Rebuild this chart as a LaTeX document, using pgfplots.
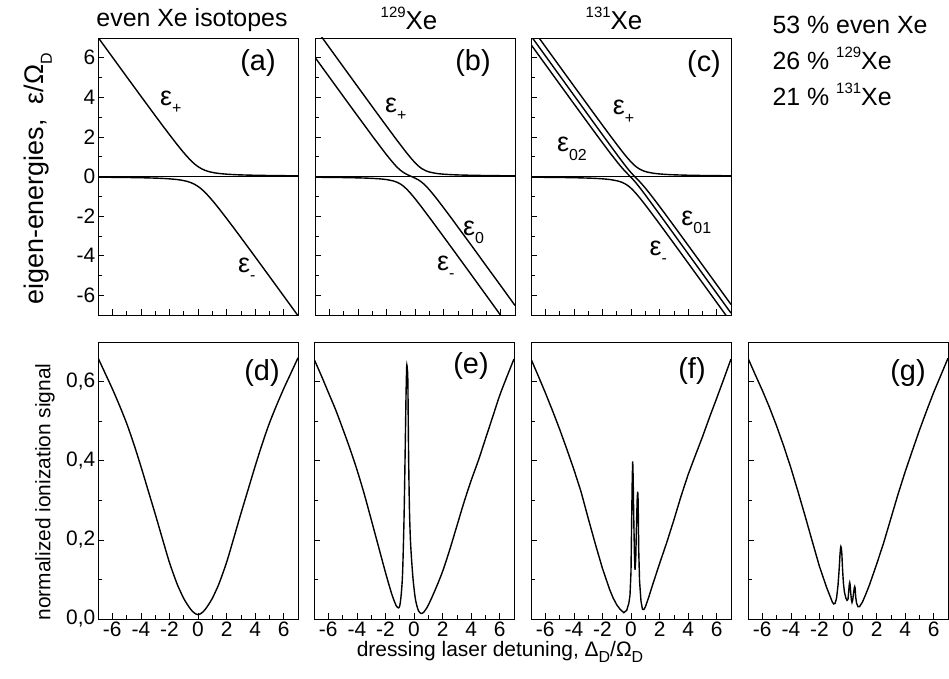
\documentclass[border=0pt]{standalone}
\usepackage{fontspec}
\setmainfont{Liberation Sans}
\usepackage{pgfplots}
\pgfplotsset{compat=1.18}
\newcommand{\fs}[1]{\fontsize{#1}{#1}\selectfont}
\newcommand{\sbs}[1]{\raisebox{-0.3em}{\fs{16}#1}}
\newcommand{\sps}[1]{\raisebox{0.5em}{\fs{15}#1}}
\tikzset{
  plab/.style={font=\fs{29}},
  elab/.style={font=\fs{27}, anchor=base west, inner sep=0pt},
}
\pgfplotsset{
  panel/.style={
    scale only axis, width=200bp, height=277bp,
    xmin=-7, xmax=7,
    xtick={-6,-4,-2,0,2,4,6},
    minor xtick={-5,-3,-1,1,3,5},
    xtick pos=left, ytick pos=left,
    tick align=inside,
    major tick length=6bp, minor tick length=3.5bp,
    every tick/.append style={black, line width=0.7bp},
    axis line style={line width=0.8bp},
    tick label style={font=\fs{21}},
    yticklabel style={anchor=east, inner sep=2.5bp},
    xticklabel style={anchor=north, inner sep=2.5bp},
    clip=true,
  },
  top/.style={ymin=-7, ymax=7, ytick={-6,-4,-2,0,2,4,6}, minor ytick={-5,-3,-1,1,3,5},
    xticklabels={}, yticklabels={}},
  bot/.style={ymin=0, ymax=0.7, ytick={0,0.2,0.4,0.6}, minor ytick={0.1,0.3,0.5},
    yticklabels={}, xticklabels={-6,-4,-2,0,2,4,6}},
  cv/.style={black, line width=1.4bp, smooth, tension=0.5, mark=none},
  cvs/.style={black, line width=1.4bp, mark=none},
  zl/.style={black, line width=0.6bp, mark=none},
}
\begin{document}
\begin{tikzpicture}
\useasboundingbox (0,0) rectangle (949bp,679bp);

% ---------- (a)
\begin{axis}[panel, top, at={(98bp,364bp)}, anchor=south west, yticklabels={-6,-4,-2,0,2,4,6}]
\addplot[zl] coordinates {(-7,0) (7,0)};
\addplot[cv] coordinates {(-7,7.036) (-6,6.041) (-5,5.050) (-4,4.062) (-3,3.081) (-2.5,2.596) (-2,2.118) (-1.5,1.651) (-1.25,1.425) (-1,1.207) (-0.75,1.000) (-0.5,0.809) (-0.25,0.640) (0,0.5) (0.25,0.390) (0.5,0.309) (0.75,0.250) (1,0.207) (1.25,0.175) (1.5,0.151) (2,0.118) (2.5,0.096) (3,0.081) (4,0.062) (5,0.050) (6,0.041) (7,0.036)};
\addplot[cv] coordinates {(-7,-0.036) (-6,-0.041) (-5,-0.050) (-4,-0.062) (-3,-0.081) (-2.5,-0.096) (-2,-0.118) (-1.5,-0.151) (-1.25,-0.175) (-1,-0.207) (-0.75,-0.25) (-0.5,-0.309) (-0.25,-0.390) (0,-0.5) (0.25,-0.640) (0.5,-0.809) (0.75,-1.0) (1,-1.207) (1.25,-1.425) (1.5,-1.651) (2,-2.118) (2.5,-2.596) (3,-3.081) (4,-4.062) (5,-5.050) (6,-6.041) (7,-7.036)};
\node[plab] at (rel axis cs:0.80,0.91) {(a)};
\node[elab] at (axis cs:-2.66,3.57) {ε\sbs{+}};
\node[elab] at (axis cs:2.80,-4.84) {ε\sbs{-}};
\end{axis}

% ---------- (b)
\begin{axis}[panel, top, at={(315bp,364bp)}, anchor=south west]
\addplot[zl] coordinates {(-7,0) (7,0)};
\addplot[cv] coordinates {(-7,7.517) (-6,6.519) (-5,5.523) (-4.5,5.025) (-4,4.528) (-3.5,4.032) (-3,3.536) (-2.5,3.043) (-2,2.552) (-1.5,2.063) (-1.25,1.822) (-1,1.583) (-0.75,1.348) (-0.5,1.120) (-0.25,0.901) (0,0.700) (0.25,0.525) (0.5,0.388) (0.75,0.292) (1,0.228) (1.5,0.155) (2,0.117) (2.5,0.095) (3,0.079) (3.5,0.069) (4,0.061) (4.5,0.054) (5,0.049) (6,0.040) (7,0.035)};
\addplot[cv] coordinates {(-7,6.021) (-6,5.025) (-5,4.031) (-4.5,3.535) (-4,3.042) (-3.5,2.552) (-3,2.058) (-2.5,1.579) (-2,1.105) (-1.5,0.665) (-1.25,0.470) (-1,0.305) (-0.75,0.177) (-0.5,0.080) (-0.25,0) (0,-0.080) (0.25,-0.177) (0.5,-0.305) (0.75,-0.470) (1,-0.665) (1.5,-1.105) (2,-1.579) (2.5,-2.058) (3,-2.552) (3.5,-3.042) (4,-3.535) (4.5,-4.031) (5,-4.53) (6,-5.52) (7,-6.519)};
\addplot[cv] coordinates {(-7,-0.0375) (-6,-0.044) (-5,-0.054) (-4.5,-0.061) (-4,-0.069) (-3.5,-0.079) (-3,-0.095) (-2.5,-0.117) (-2,-0.155) (-1.5,-0.228) (-1.25,-0.292) (-1,-0.388) (-0.75,-0.525) (-0.5,-0.700) (-0.25,-0.901) (0,-1.120) (0.25,-1.348) (0.5,-1.583) (0.75,-1.822) (1,-2.063) (1.5,-2.552) (2,-3.043) (2.5,-3.536) (3,-4.032) (3.5,-4.528) (4,-5.025) (4.5,-5.523) (5,-6.02) (6,-7.02) (7,-8.016)};
\node[plab] at (rel axis cs:0.79,0.91) {(b)};
\node[elab] at (axis cs:-2.1,3.22) {ε\sbs{+}};
\node[elab] at (axis cs:3.36,-2.96) {ε\sbs{0}};
\node[elab] at (axis cs:1.54,-4.73) {ε\sbs{-}};
\end{axis}

% ---------- (c)
\begin{axis}[panel, top, at={(531bp,364bp)}, anchor=south west]
\addplot[zl] coordinates {(-7,0) (7,0)};
\addplot[cv] coordinates {(-7,7.565) (-6.8,7.365) (-5.9,6.468) (-4.9,5.471) (-3.9,4.476) (-2.9,3.483) (-2.4,2.989) (-1.9,2.497) (-1.4,2.010) (-0.9,1.531) (-0.65,1.297) (-0.4,1.071) (-0.15,0.857) (0.1,0.662) (0.35,0.499) (0.6,0.377) (0.85,0.289) (1.1,0.231) (1.6,0.161) (2.1,0.123) (2.6,0.099) (3.1,0.083) (4.1,0.062) (5.1,0.050) (6.1,0.042) (7,0.036)};
\addplot[cv] coordinates {(-7,7.104) (-6.8,6.904) (-5.9,6.005) (-4.9,5.006) (-3.9,4.008) (-2.9,3.010) (-2.4,2.512) (-1.9,2.015) (-1.4,1.520) (-0.9,1.029) (-0.65,0.786) (-0.4,0.550) (-0.15,0.324) (0.1,0.118) (0.35,-0.069) (0.6,-0.255) (0.85,-0.456) (1.1,-0.672) (1.6,-1.132) (2.1,-1.610) (2.6,-2.098) (3.1,-2.589) (4.1,-3.579) (5.1,-4.573) (6.1,-5.569) (7,-6.467)};
\addplot[cv] coordinates {(-7,6.666) (-6.8,6.467) (-5.9,5.569) (-4.9,4.573) (-3.9,3.579) (-2.9,2.589) (-2.4,2.098) (-1.9,1.610) (-1.4,1.132) (-0.9,0.672) (-0.65,0.456) (-0.4,0.255) (-0.15,0.069) (0.1,-0.118) (0.35,-0.324) (0.6,-0.550) (0.85,-0.786) (1.1,-1.029) (1.6,-1.520) (2.1,-2.015) (2.6,-2.512) (3.1,-3.010) (4.1,-4.008) (5.1,-5.006) (6.1,-6.005) (7,-6.904)};
\addplot[cv] coordinates {(-7,-0.035) (-5.9,-0.042) (-4.9,-0.050) (-3.9,-0.062) (-2.9,-0.083) (-2.4,-0.099) (-1.9,-0.123) (-1.4,-0.161) (-0.9,-0.231) (-0.65,-0.289) (-0.4,-0.377) (-0.15,-0.499) (0.1,-0.662) (0.35,-0.857) (0.6,-1.071) (0.85,-1.297) (1.1,-1.531) (1.6,-2.010) (2.1,-2.497) (2.6,-2.989) (3.1,-3.483) (4.1,-4.476) (5.1,-5.471) (6.1,-6.468) (7,-7.365)};
\node[plab] at (rel axis cs:0.865,0.905) {(c)};
\node[elab] at (axis cs:-1.29,3.11) {ε\sbs{+}};
\node[elab] at (axis cs:-5.19,1.24) {ε\sbs{02}};
\node[elab] at (axis cs:3.52,-2.46) {ε\sbs{01}};
\node[elab] at (axis cs:1.29,-3.97) {ε\sbs{-}};
\end{axis}

% ---------- (d)
\begin{axis}[panel, bot, at={(98bp,60bp)}, anchor=south west, yticklabels={{0,0},{0,2},{0,4},{0,6}}]
\addplot[cv] coordinates {(-7,0.660) (-6.5,0.621) (-6,0.582) (-5.5,0.540) (-5,0.495) (-4.5,0.443) (-4,0.386) (-3.5,0.326) (-3,0.266) (-2.5,0.204) (-2,0.143) (-1.5,0.092) (-1.25,0.071) (-1,0.052) (-0.75,0.037) (-0.5,0.024) (-0.25,0.015) (0,0.011) (0.25,0.015) (0.5,0.024) (0.75,0.037) (1,0.052) (1.25,0.071) (1.5,0.092) (2,0.143) (2.5,0.204) (3,0.266) (3.5,0.326) (4,0.386) (4.5,0.443) (5,0.495) (5.5,0.540) (6,0.582) (6.5,0.621) (7,0.660)};
\node[plab] at (rel axis cs:0.82,0.888) {(d)};
\end{axis}

% ---------- (e)
\begin{axis}[panel, bot, at={(314bp,60bp)}, anchor=south west]
\addplot[cv] coordinates {(-7,0.657) (-6.5,0.616) (-6,0.573) (-5.5,0.530) (-5,0.482) (-4.5,0.432) (-4,0.378) (-3.5,0.318) (-3,0.252) (-2.5,0.185) (-2,0.118) (-1.6,0.068) (-1.4,0.047) (-1.25,0.034) (-1.1,0.028) (-1.0,0.033) (-0.9,0.06) (-0.8,0.115) (-0.7,0.25) (-0.62,0.42) (-0.56,0.56) (-0.52,0.628) (-0.5,0.642) (-0.47,0.632) (-0.43,0.60) (-0.38,0.42) (-0.32,0.28) (-0.25,0.20) (-0.15,0.14) (-0.05,0.095) (0.1,0.05) (0.3,0.022) (0.5,0.014) (0.7,0.018) (1.0,0.035) (1.5,0.075) (2.0,0.12) (2.5,0.175) (3.0,0.235) (3.5,0.295) (4.0,0.35) (4.5,0.40) (5.0,0.455) (5.5,0.51) (6.0,0.565) (6.5,0.612) (7.0,0.657)};
\node[plab] at (rel axis cs:0.785,0.913) {(e)};
\end{axis}

% ---------- (f)
\begin{axis}[panel, bot, at={(531bp,60bp)}, anchor=south west]
\addplot[cvs] coordinates {(-7,0.657) (-6.5,0.615) (-6,0.572) (-5.5,0.527) (-5,0.48) (-4.5,0.43) (-4,0.378) (-3.5,0.322) (-3,0.255) (-2.5,0.19) (-2,0.128) (-1.5,0.075) (-1.25,0.053) (-1,0.036) (-0.75,0.024) (-0.5,0.016) (-0.3,0.022) (-0.15,0.04) (-0.07,0.06) (0,0.12) (0.05,0.26) (0.09,0.36) (0.12,0.398) (0.15,0.36) (0.19,0.26) (0.24,0.165) (0.28,0.124) (0.33,0.15) (0.4,0.26) (0.44,0.31) (0.47,0.322) (0.5,0.30) (0.54,0.175) (0.6,0.095) (0.7,0.045) (0.8,0.025) (0.9,0.024) (1.0,0.03) (1.25,0.056) (1.5,0.085) (2,0.14) (2.5,0.193) (3,0.25) (3.5,0.31) (4,0.365) (4.5,0.413) (5,0.46) (5.5,0.51) (6,0.558) (6.5,0.607) (7,0.657)};
\node[plab] at (rel axis cs:0.805,0.895) {(f)};
\end{axis}

% ---------- (g)
\begin{axis}[panel, bot, at={(748bp,60bp)}, anchor=south west]
\addplot[cvs] coordinates {(-7,0.659) (-6.5,0.618) (-6,0.578) (-5.5,0.535) (-5,0.488) (-4.5,0.437) (-4,0.382) (-3.5,0.322) (-3,0.260) (-2.5,0.196) (-2,0.133) (-1.5,0.080) (-1.25,0.057) (-1.1,0.043) (-1.0,0.038) (-0.9,0.040) (-0.8,0.053) (-0.7,0.085) (-0.62,0.125) (-0.56,0.163) (-0.52,0.18) (-0.5,0.183) (-0.47,0.18) (-0.43,0.165) (-0.38,0.125) (-0.32,0.09) (-0.25,0.068) (-0.15,0.053) (-0.07,0.047) (0,0.05) (0.05,0.07) (0.09,0.088) (0.12,0.092) (0.15,0.086) (0.19,0.066) (0.24,0.048) (0.28,0.042) (0.33,0.048) (0.40,0.068) (0.44,0.079) (0.47,0.082) (0.5,0.078) (0.54,0.055) (0.6,0.04) (0.7,0.031) (0.8,0.031) (1.0,0.042) (1.25,0.063) (1.5,0.086) (2,0.138) (2.5,0.193) (3,0.254) (3.5,0.315) (4,0.372) (4.5,0.425) (5,0.477) (5.5,0.526) (6,0.573) (6.5,0.616) (7,0.659)};
\node[plab] at (rel axis cs:0.80,0.888) {(g)};
\end{axis}

% ---------- texts
\node[font=\fs{25}, anchor=base] at (192bp,652bp) {even Xe isotopes};
\node[font=\fs{26}, anchor=base] at (409bp,649bp) {\sps{129}Xe};
\node[font=\fs{26}, anchor=base] at (614bp,649bp) {\sps{131}Xe};
\node[font=\fs{25}, anchor=base west] at (769bp,645bp) {53 \% even Xe};
\node[font=\fs{25}, anchor=base west] at (769bp,609bp) {26 \% \sps{129}Xe};
\node[font=\fs{25}, anchor=base west] at (769bp,573bp) {21 \% \sps{131}Xe};
\node[font=\fs{27}, rotate=90] at (38bp,500bp) {eigen-energies,\ \ ε/Ω\sbs{D}};
\node[font=\fs{21}, rotate=90] at (45bp,187bp) {normalized ionization signal};
\node[font=\fs{21}, anchor=base] at (500bp,23bp) {dressing laser detuning, Δ\sbs{D}/Ω\sbs{D}};
\end{tikzpicture}
\end{document}
